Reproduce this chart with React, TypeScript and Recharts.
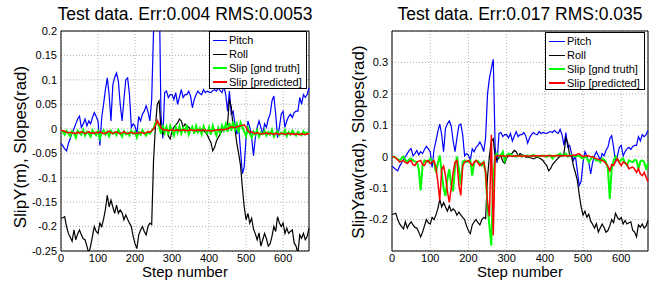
import { LineChart, Line, XAxis, YAxis, CartesianGrid, ReferenceArea } from "recharts";

const FONT = '"Liberation Sans", Arial, Helvetica, sans-serif';

// sample positions (every 5th step)
const steps = Array.from({ length: 135 }, (_, i) => i * 5);

const pitch = [
  -0.03, -0.035, -0.041, -0.045, -0.03, -0.02, -0.008, 0.0, 0.01, 0.02,
  0.026, 0.003, 0.01, 0.02, 0.006, 0.016, 0.01, 0.023, 0.033, 0.025,
  0.016, -0.034, 0.023, 0.05, 0.08, 0.104, 0.07, 0.016, 0.09, 0.105,
  0.114, 0.097, 0.05, 0.016, 0.06, 0.1, 0.104, 0.07, 0.003, 0.01,
  0.005, -0.011, 0.025, 0.016, 0.03, 0.036, 0.047, 0.035, 0.016, 0.06,
  0.2, 0.25, 0.28, 0.31, 0.03, -0.02, 0.074, 0.077, 0.064, 0.07,
  0.07, 0.06, 0.074, 0.05, 0.065, 0.08, 0.064, 0.07, 0.07, 0.077,
  0.067, 0.043, 0.06, 0.07, 0.077, 0.072, 0.07, 0.08, 0.074, 0.077,
  0.075, 0.074, 0.078, 0.08, 0.077, 0.084, 0.078, 0.074, 0.087, 0.07,
  0.036, 0.077, 0.03, 0.036, 0.01, -0.011, 0.003, -0.045, -0.092, -0.078,
  -0.018, 0.016, 0.003, -0.018, -0.055, -0.018, 0.003, 0.016, 0.003, -0.011,
  0.01, 0.003, 0.02, 0.03, 0.057, 0.067, 0.03, -0.018, 0.003, 0.03,
  0.036, 0.003, 0.016, 0.025, 0.03, 0.023, 0.033, 0.036, 0.036, 0.064,
  0.05, 0.07, 0.064, 0.07, 0.084,
];

const roll = [
  -0.183, -0.182, -0.18, -0.2, -0.214, -0.222, -0.23, -0.207, -0.227, -0.215,
  -0.207, -0.217, -0.225, -0.227, -0.24, -0.255, -0.24, -0.22, -0.2, -0.21,
  -0.214, -0.193, -0.2, -0.185, -0.165, -0.136, -0.16, -0.146, -0.16, -0.173,
  -0.156, -0.173, -0.166, -0.172, -0.186, -0.176, -0.185, -0.193, -0.2, -0.22,
  -0.235, -0.245, -0.217, -0.207, -0.2, -0.21, -0.217, -0.2, -0.193, -0.196,
  -0.065, 0.003, 0.05, 0.057, 0.0, -0.011, -0.004, 0.003, -0.015, -0.021,
  -0.004, 0.003, 0.008, 0.012, 0.02, 0.016, 0.003, 0.01, 0.006, 0.003,
  -0.001, -0.001, -0.003, -0.004, -0.007, -0.004, -0.001, -0.004, -0.007, -0.012,
  -0.021, -0.028, -0.045, -0.038, -0.025, -0.018, -0.011, -0.004, 0.001, 0.003,
  0.01, 0.06, 0.045, 0.003, 0.0, -0.03, -0.051, -0.075, -0.12, -0.16,
  -0.186, -0.173, -0.193, -0.183, -0.205, -0.215, -0.227, -0.213, -0.24, -0.227,
  -0.214, -0.225, -0.24, -0.235, -0.22, -0.2, -0.21, -0.18, -0.193, -0.2,
  -0.193, -0.214, -0.203, -0.214, -0.21, -0.207, -0.234, -0.24, -0.255, -0.217,
  -0.224, -0.214, -0.227, -0.22, -0.203,
];

const slipYTruth = [
  -0.003, -0.006, -0.012, -0.004, -0.01, -0.015, -0.005, -0.009, -0.018, -0.004,
  -0.008, -0.012, -0.002, -0.014, -0.006, -0.01, -0.016, -0.003, -0.009, -0.013,
  -0.005, -0.02, -0.008, -0.003, -0.012, -0.006, -0.015, -0.004, -0.01, -0.007,
  -0.013, -0.002, -0.009, -0.016, -0.005, -0.011, -0.008, -0.014, -0.004, -0.01,
  -0.006, -0.018, -0.007, -0.012, -0.003, -0.009, -0.014, -0.006, -0.01, -0.004,
  0.0, 0.012, 0.015, 0.005, -0.01, 0.008, -0.008, 0.004, -0.012, 0.006,
  -0.004, -0.014, 0.003, -0.008, 0.005, -0.01, 0.002, -0.006, 0.008, -0.012,
  -0.002, 0.004, -0.01, 0.006, -0.007, 0.001, -0.011, 0.005, -0.004, -0.009,
  0.003, -0.012, 0.006, -0.005, -0.014, 0.002, -0.008, 0.007, -0.003, 0.01,
  -0.006, 0.012, -0.004, 0.015, -0.002, 0.01, -0.008, 0.013, 0.004, -0.006,
  -0.015, 0.002, -0.01, -0.018, -0.006, -0.012, -0.003, -0.016, -0.008, -0.011,
  -0.004, -0.014, -0.007, -0.012, -0.002, -0.016, -0.009, -0.005, -0.013, -0.008,
  -0.011, -0.003, -0.015, -0.007, -0.012, -0.004, -0.009, -0.014, -0.006, -0.01,
  -0.013, -0.005, -0.011, -0.008, -0.012,
];

const slipYPred = [
  -0.003, -0.004, -0.005, -0.007, -0.008, -0.007, -0.009, -0.008, -0.01, -0.007,
  -0.009, -0.006, -0.008, -0.01, -0.008, -0.006, -0.009, -0.008, -0.01, -0.007,
  -0.009, -0.006, -0.008, -0.01, -0.009, -0.007, -0.005, -0.008, -0.01, -0.008,
  -0.006, -0.009, -0.01, -0.008, -0.006, -0.009, -0.01, -0.008, -0.007, -0.009,
  -0.01, -0.008, -0.009, -0.007, -0.008, -0.01, -0.008, -0.006, -0.007, -0.004,
  0.0, 0.006, 0.017, 0.01, 0.002, -0.001, -0.003, -0.002, -0.004, -0.003,
  -0.002, -0.004, -0.003, -0.002, -0.004, -0.003, -0.002, -0.003, -0.004, -0.003,
  -0.002, -0.003, -0.004, -0.003, -0.002, -0.003, -0.004, -0.002, -0.003, -0.004,
  -0.003, -0.005, -0.004, -0.003, -0.002, -0.003, -0.002, -0.001, -0.002, -0.001,
  0.0, 0.002, 0.004, 0.003, 0.002, 0.004, 0.005, 0.006, 0.007, 0.008,
  0.003, -0.004, -0.008, -0.006, -0.009, -0.01, -0.008, -0.01, -0.011, -0.009,
  -0.01, -0.008, -0.011, -0.009, -0.01, -0.012, -0.009, -0.01, -0.011, -0.009,
  -0.01, -0.012, -0.01, -0.009, -0.011, -0.01, -0.012, -0.01, -0.011, -0.012,
  -0.01, -0.011, -0.012, -0.01, -0.011,
];

const slipYawTruth = [
  0, 0, -0.004, -0.008, -0.012, -0.005, 0, -0.01, -0.017, -0.008,
  -0.006, -0.012, -0.015, -0.017, -0.04, -0.107, -0.028, -0.012, -0.015, -0.017,
  -0.006, -0.012, -0.017, -0.05, -0.02, 0.004, -0.05, -0.1, -0.125, -0.07,
  -0.04, -0.09, -0.11, -0.03, 0.0, -0.04, -0.09, -0.017, -0.012, -0.017,
  -0.015, -0.012, -0.06, -0.02, -0.012, -0.015, -0.02, -0.028, -0.017, -0.05,
  -0.16, -0.22, -0.283, -0.06, 0.0, 0.01, 0.0, 0.005, 0.015, -0.012,
  0.004, 0.01, 0.008, 0.004, 0.002, 0, 0.004, 0.002, 0, 0.004,
  0.002, 0.004, 0, 0.003, 0.006, 0.002, 0.002, 0, 0.003, 0.004,
  0.001, 0, 0.003, 0.004, -0.006, 0.002, 0.004, 0.006, 0.01, 0.002,
  0.006, 0.01, 0, 0.004, 0.006, 0.002, 0, 0.003, 0.004, -0.003,
  -0.006, 0.0, -0.004, -0.017, -0.008, 0, -0.006, -0.012, -0.01, -0.017,
  -0.006, -0.01, -0.017, -0.038, -0.134, -0.038, -0.012, 0, -0.008, -0.017,
  -0.01, -0.006, -0.02, -0.028, -0.012, -0.015, -0.017, -0.01, -0.012, -0.038,
  -0.015, -0.012, -0.017, -0.038, -0.022,
];

const slipYawPred = [
  0, 0, -0.004, -0.01, -0.017, -0.014, -0.012, -0.018, -0.022, -0.015,
  -0.012, -0.025, -0.028, -0.017, -0.014, -0.012, -0.025, -0.028, -0.014, -0.012,
  -0.022, -0.017, -0.012, -0.035, -0.08, -0.14, -0.04, -0.03, -0.06, -0.11,
  -0.145, -0.1, -0.05, -0.017, -0.012, -0.09, -0.123, -0.03, -0.017, -0.014,
  -0.012, -0.02, -0.028, -0.017, -0.012, -0.02, -0.028, -0.022, -0.017, -0.05,
  -0.145, -0.19, 0.07, -0.25, 0.0, 0.003, 0.004, 0.002, 0.003, 0.001,
  0.002, 0.003, 0.002, 0.001, 0.003, 0.002, 0.002, 0.003, 0.001, 0.002,
  0.003, 0.002, 0.001, 0.002, 0.003, 0.002, 0.004, 0.002, 0.003, 0.002,
  0.002, 0.003, 0.004, 0.002, 0.003, 0.002, 0.003, 0.004, 0.003, 0.002,
  0.004, 0.003, 0.002, 0.004, 0.003, 0.005, 0.004, 0.008, 0.01, 0.004,
  0.0, 0.002, 0.004, 0.002, 0.0, 0.0, -0.004, -0.006, -0.008, -0.01,
  -0.012, -0.015, -0.022, -0.03, -0.045, -0.025, -0.028, -0.015, -0.006, -0.02,
  -0.028, -0.017, -0.02, -0.025, -0.038, -0.035, -0.033, -0.04, -0.05, -0.038,
  -0.055, -0.06, -0.05, -0.065, -0.08,
];

const xTicks = [0, 100, 200, 300, 400, 500, 600];
const yTicksY = [-0.25, -0.2, -0.15, -0.1, -0.05, 0, 0.05, 0.1, 0.15, 0.2];
const yTicksYaw = [-0.2, -0.1, 0, 0.1, 0.2, 0.3];

const legendItems = [
  { label: "Pitch", color: "#0000ff", w: 1.2 },
  { label: "Roll", color: "#000000", w: 1.2 },
  { label: "Slip [gnd truth]", color: "#00ff00", w: 2 },
  { label: "Slip [predicted]", color: "#ff0000", w: 2 },
];

function Panel({ left, yWidth, rightMargin, yDomain, yTicks, truth, pred, legend }) {
  const data = steps.map((s, i) => ({
    step: s,
    pitch: pitch[i],
    roll: roll[i],
    truth: truth[i],
    pred: pred[i],
  }));
  return (
    <div style={{ position: "absolute", left, top: 0 }}>
      <LineChart
        width={329}
        height={285}
        data={data}
        margin={{ top: 31, right: rightMargin, bottom: 0, left: 0 }}
      >
        <CartesianGrid stroke="#b0b0b0" strokeDasharray="1 2" />
        <XAxis
          dataKey="step"
          type="number"
          domain={[0, 670]}
          ticks={xTicks}
          height={34}
          axisLine={false}
          tickLine={false}
          tickSize={0}
          tickMargin={3}
          tick={{ fontSize: 11, fill: "#000", fontFamily: FONT }}
        />
        <YAxis
          type="number"
          domain={yDomain}
          ticks={yTicks}
          allowDataOverflow
          width={yWidth}
          axisLine={false}
          tickLine={false}
          tickSize={0}
          tickMargin={4}
          tick={{ fontSize: 11, fill: "#000", fontFamily: FONT }}
        />
        <Line dataKey="pitch" stroke="#0000ff" strokeWidth={1.2} dot={false} isAnimationActive={false} />
        <Line dataKey="roll" stroke="#000000" strokeWidth={1.2} dot={false} isAnimationActive={false} />
        <Line dataKey="truth" stroke="#00ff00" strokeWidth={2} dot={false} isAnimationActive={false} />
        <Line dataKey="pred" stroke="#ff0000" strokeWidth={1.5} dot={false} isAnimationActive={false} />
        <ReferenceArea
          x1={0}
          x2={670}
          y1={yDomain[0]}
          y2={yDomain[1]}
          fill="none"
          fillOpacity={0}
          stroke="#000"
          strokeWidth={1}
          strokeOpacity={1}
        />
      </LineChart>
      <div
        style={{
          position: "absolute",
          left: legend.x - left,
          top: legend.y,
          width: legend.w,
          height: 58,
          background: "#fff",
          border: "1px solid #000",
          boxSizing: "border-box",
          fontFamily: FONT,
          fontSize: 11,
          color: "#000",
          paddingTop: 1,
        }}
      >
        {legendItems.map((it) => (
          <div key={it.label} style={{ display: "flex", alignItems: "center", height: 14 }}>
            <span
              style={{
                display: "inline-block",
                width: legend.line,
                height: 0,
                borderTop: `${it.w}px solid ${it.color}`,
                marginLeft: 3,
                marginRight: 2,
              }}
            />
            <span style={{ whiteSpace: "nowrap" }}>{it.label}</span>
          </div>
        ))}
      </div>
    </div>
  );
}

export default function App() {
  return (
    <div
      style={{
        position: "absolute",
        left: 0,
        top: 0,
        width: 658,
        height: 285,
        background: "#fff",
        overflow: "hidden",
      }}
    >
      <Panel
        left={0}
        yWidth={61}
        rightMargin={20}
        yDomain={[-0.25, 0.2]}
        yTicks={yTicksY}
        truth={slipYTruth}
        pred={slipYPred}
        legend={{ x: 209, y: 31, w: 98, line: 14 }}
      />
      <Panel
        left={329}
        yWidth={63}
        rightMargin={10}
        yDomain={[-0.3, 0.4]}
        yTicks={yTicksYaw}
        truth={slipYawTruth}
        pred={slipYawPred}
        legend={{ x: 545, y: 32, w: 100, line: 16 }}
      />
      <svg
        width={658}
        height={285}
        style={{ position: "absolute", left: 0, top: 0, pointerEvents: "none" }}
        fontFamily={FONT}
      >
        <text x={185} y={20} textAnchor="middle" fontSize={17.5}>
          Test data. Err:0.004 RMS:0.0053
        </text>
        <text x={520} y={20} textAnchor="middle" fontSize={17.5}>
          Test data. Err:0.017 RMS:0.035
        </text>
        <text x={185} y={277} textAnchor="middle" fontSize={15}>
          Step number
        </text>
        <text x={520} y={277} textAnchor="middle" fontSize={15}>
          Step number
        </text>
        <text transform="translate(26,147) rotate(-90)" textAnchor="middle" fontSize={17}>
          SlipY(m), Slopes(rad)
        </text>
        <text transform="translate(364,142) rotate(-90)" textAnchor="middle" fontSize={17}>
          SlipYaw(rad), Slopes(rad)
        </text>
      </svg>
    </div>
  );
}
